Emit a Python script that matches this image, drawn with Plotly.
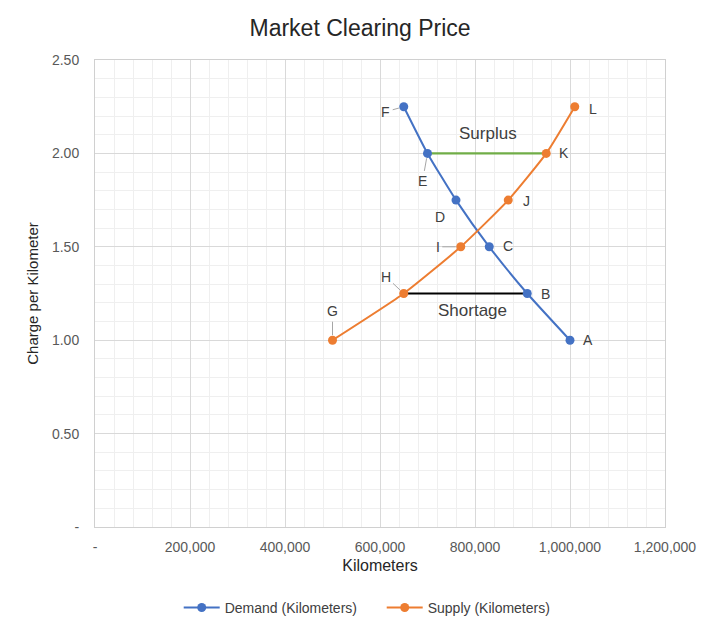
import plotly.graph_objects as go

# demand / supply schedule
demand_km = [1000000, 910000, 830000, 760000, 700000, 650000]
demand_price = [1.00, 1.25, 1.50, 1.75, 2.00, 2.25]
demand_labels = ["A", "B", "C", "D", "E", "F"]

supply_km = [500000, 650000, 770000, 870000, 950000, 1010000]
supply_price = [1.00, 1.25, 1.50, 1.75, 2.00, 2.25]
supply_labels = ["G", "H", "I", "J", "K", "L"]

# gap lines
surplus_km = [700000, 950000]
surplus_price = [2.00, 2.00]
shortage_km = [650000, 910000]
shortage_price = [1.25, 1.25]

x_ticks = [0, 200000, 400000, 600000, 800000, 1000000, 1200000]
x_ticktext = ["-", "200,000", "400,000", "600,000", "800,000", "1,000,000", "1,200,000"]
y_ticks = [0, 0.5, 1.0, 1.5, 2.0, 2.5]
y_ticktext = ["-", "0.50", "1.00", "1.50", "2.00", "2.50"]

BLUE = "#4472C4"
ORANGE = "#ED7D31"
GREEN = "#70AD47"
TXT = "#404040"
FONT = "Liberation Sans, Arial, sans-serif"

fig = go.Figure()

fig.add_trace(go.Scatter(x=surplus_km, y=surplus_price, mode="lines",
                         line=dict(color=GREEN, width=2.2), showlegend=False,
                         hoverinfo="skip"))
fig.add_trace(go.Scatter(x=shortage_km, y=shortage_price, mode="lines",
                         line=dict(color="black", width=2.2), showlegend=False,
                         hoverinfo="skip"))
fig.add_trace(go.Scatter(x=demand_km, y=demand_price, mode="lines+markers",
                         name="Demand (Kilometers)",
                         line=dict(color=BLUE, width=2, shape="spline", smoothing=0.5),
                         marker=dict(color=BLUE, size=9)))
fig.add_trace(go.Scatter(x=supply_km, y=supply_price, mode="lines+markers",
                         name="Supply (Kilometers)",
                         line=dict(color=ORANGE, width=2, shape="spline", smoothing=0.5),
                         marker=dict(color=ORANGE, size=9)))

# label placement: (dx, dy, leader) in pixels relative to the point
label_style = {
    "A": (18, 0, False), "B": (18, 0, False), "C": (19, -1, False),
    "D": (-16, 17, False), "E": (-5, 28, True), "F": (-18, 5, True),
    "G": (0, -29, True), "H": (-18, -17, True), "I": (-23, 0, True),
    "J": (18, 1, False), "K": (18, 0, False), "L": (18, 2, False),
}

for xs, ys, labs in [(demand_km, demand_price, demand_labels),
                     (supply_km, supply_price, supply_labels)]:
    for xv, yv, lab in zip(xs, ys, labs):
        dx, dy, leader = label_style[lab]
        if leader:
            fig.add_annotation(x=xv, y=yv, text=lab, showarrow=True, arrowhead=0,
                               arrowwidth=1, arrowcolor="#a6a6a6", ax=dx, ay=dy,
                               standoff=5, startstandoff=1,
                               font=dict(size=14, color=TXT, family=FONT))
        else:
            fig.add_annotation(x=xv, y=yv, text=lab, showarrow=False,
                               xshift=dx, yshift=-dy,
                               font=dict(size=14, color=TXT, family=FONT))

fig.add_annotation(x=sum(surplus_km) / 2, y=surplus_price[0], text="Surplus",
                   showarrow=False, yshift=20, xshift=1,
                   font=dict(size=17, color=TXT, family=FONT))
fig.add_annotation(x=sum(shortage_km) / 2, y=shortage_price[0], text="Shortage",
                   showarrow=False, yshift=-17, xshift=7,
                   font=dict(size=17, color=TXT, family=FONT))

fig.update_layout(
    width=720, height=633,
    margin=dict(l=87, r=63, t=52, b=114),
    paper_bgcolor="white", plot_bgcolor="white",
    font=dict(family=FONT, color="#595959", size=14),
    title=dict(text="Market Clearing Price", x=0.489, xanchor="center",
               y=1 - 20 / 633, yanchor="middle",
               font=dict(size=23, color="#262626", family=FONT)),
    legend=dict(orientation="h", x=0.503, xanchor="center", y=-0.139, yanchor="top",
                font=dict(size=14, color="#404040"), itemwidth=36,
                entrywidth=152),
)
fig.update_xaxes(range=[0, 1200000], tickvals=x_ticks, ticktext=x_ticktext,
                 showgrid=True, gridcolor="#d9d9d9", gridwidth=1,
                 minor=dict(dtick=40000, showgrid=True, gridcolor="#efefef"),
                 showline=True, linecolor="#d0d0d0", mirror=True, zeroline=False,
                 ticks="", ticklabelstandoff=7,
                 title=dict(text="Kilometers", standoff=6,
                            font=dict(size=16, color="#262626")))
fig.update_yaxes(range=[0, 2.5], tickvals=y_ticks, ticktext=y_ticktext,
                 showgrid=True, gridcolor="#d9d9d9", gridwidth=1,
                 minor=dict(dtick=0.1, showgrid=True, gridcolor="#efefef"),
                 showline=True, linecolor="#d0d0d0", mirror=True, zeroline=False,
                 ticks="", ticklabelstandoff=12,
                 title=dict(text="Charge per Kilometer", standoff=9,
                            font=dict(size=15, color="#262626")))

fig.write_html("out.html")
